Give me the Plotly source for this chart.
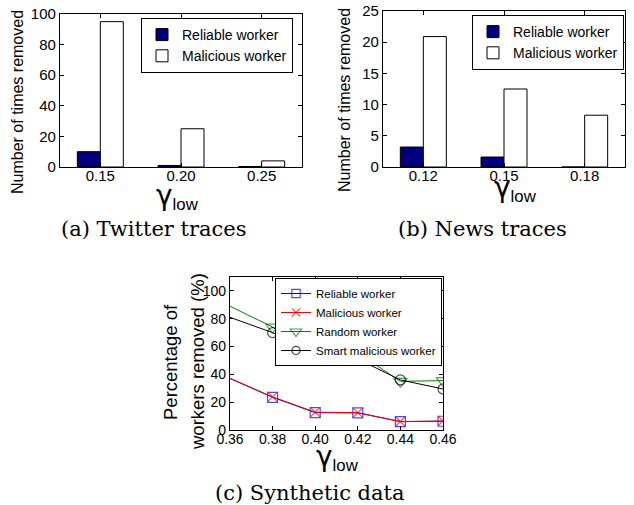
import plotly.graph_objects as go

# ---------------- data ----------------
twitter_gamma = ["0.15", "0.20", "0.25"]
twitter_reliable = [10, 1, 0.3]
twitter_malicious = [95, 25, 4]

news_gamma = ["0.12", "0.15", "0.18"]
news_reliable = [3.2, 1.6, 0]
news_malicious = [20.9, 12.5, 8.3]

syn_gamma = [0.36, 0.38, 0.40, 0.42, 0.44, 0.46]
syn_reliable = [37, 23.5, 12.5, 12.3, 6, 6.3]
syn_malicious = [37.2, 23.8, 12.8, 12.5, 6.1, 6.5]
syn_random = [89, 74, 57, 55.5, 35, 35.5]
syn_smart = [81, 70, 54.5, 51, 36, 29.5]
syn_marker_sizes = [0, 10, 10, 10, 10, 10]

W, H = 634, 505
FONT = "Liberation Sans"
SERIF = "DejaVu Serif"


def px(x):
    return x / W


def py(y):
    return 1 - y / H


fig = go.Figure()

# ---- (a) Twitter traces ----
fig.add_trace(go.Bar(x=twitter_gamma, y=twitter_reliable, name="Reliable worker",
                     marker=dict(color="#00007F", line=dict(color="black", width=1)),
                     xaxis="x", yaxis="y", legend="legend"))
fig.add_trace(go.Bar(x=twitter_gamma, y=twitter_malicious, name="Malicious worker",
                     marker=dict(color="white", line=dict(color="black", width=1)),
                     xaxis="x", yaxis="y", legend="legend"))

# ---- (b) News traces ----
fig.add_trace(go.Bar(x=news_gamma, y=news_reliable, name="Reliable worker",
                     marker=dict(color="#00007F", line=dict(color="black", width=1)),
                     xaxis="x2", yaxis="y2", legend="legend2"))
fig.add_trace(go.Bar(x=news_gamma, y=news_malicious, name="Malicious worker",
                     marker=dict(color="white", line=dict(color="black", width=1)),
                     xaxis="x2", yaxis="y2", legend="legend2"))

# ---- (c) Synthetic data ----
fig.add_trace(go.Scatter(x=syn_gamma, y=syn_reliable, name="Reliable worker", mode="lines+markers",
                         line=dict(color="#0000FF", width=1),
                         marker=dict(symbol="square-open", size=syn_marker_sizes, color="#0000FF",
                                     line=dict(width=1.2)),
                         xaxis="x3", yaxis="y3", legend="legend3"))
fig.add_trace(go.Scatter(x=syn_gamma, y=syn_malicious, name="Malicious worker", mode="lines+markers",
                         line=dict(color="#FF0000", width=1),
                         marker=dict(symbol="x-thin-open", size=syn_marker_sizes, color="#FF0000",
                                     line=dict(width=1.2, color="#FF0000")),
                         xaxis="x3", yaxis="y3", legend="legend3"))
fig.add_trace(go.Scatter(x=syn_gamma, y=syn_random, name="Random worker", mode="lines+markers",
                         line=dict(color="#008000", width=1),
                         marker=dict(symbol="triangle-down-open", size=[s + 2 if s else 0 for s in syn_marker_sizes],
                                     color="#008000", line=dict(width=1.2)),
                         xaxis="x3", yaxis="y3", legend="legend3"))
fig.add_trace(go.Scatter(x=syn_gamma, y=syn_smart, name="Smart malicious worker", mode="lines+markers",
                         line=dict(color="black", width=1),
                         marker=dict(symbol="circle-open", size=syn_marker_sizes, color="black",
                                     line=dict(width=1.2)),
                         xaxis="x3", yaxis="y3", legend="legend3"))

axis_common = dict(showline=True, linecolor="black", linewidth=1.2, mirror="ticks",
                   ticks="inside", ticklen=4, tickcolor="black", showgrid=False, zeroline=False,
                   automargin=False,
                   tickfont=dict(family=FONT, size=15, color="black"))
xaxis_extra = dict(ticklabelstandoff=-5)

legend_common = dict(bgcolor="white", bordercolor="black", borderwidth=1,
                     font=dict(family=FONT, size=14, color="black"),
                     tracegroupgap=0)

fig.update_layout(
    width=W, height=H, margin=dict(l=0, r=0, t=0, b=0, autoexpand=False),
    paper_bgcolor="white", plot_bgcolor="white",
    barmode="group", bargap=0.43, bargroupgap=0,
    xaxis=dict(domain=[px(60), px(302)], anchor="y", **axis_common, **xaxis_extra),
    yaxis=dict(domain=[py(167), py(14)], anchor="x", range=[0, 100],
               tickvals=[0, 20, 40, 60, 80, 100], **axis_common),
    xaxis2=dict(domain=[px(383), px(625)], anchor="y2", **axis_common, **xaxis_extra),
    yaxis2=dict(domain=[py(167), py(11)], anchor="x2", range=[0, 25],
                tickvals=[0, 5, 10, 15, 20, 25], **axis_common),
    xaxis3=dict(domain=[px(230), px(443)], anchor="y3", range=[0.36, 0.46],
                tickvals=syn_gamma, ticktext=["0.36", "0.38", "0.40", "0.42", "0.44", "0.46"],
                ticklabelstandoff=-4,
                **{**axis_common, "tickfont": dict(family=FONT, size=14, color="black")}),
    yaxis3=dict(domain=[py(430), py(277)], anchor="x3", range=[0, 110],
                tickvals=[0, 20, 40, 60, 80, 100],
                **{**axis_common, "tickfont": dict(family=FONT, size=14, color="black")}),
    legend=dict(x=px(293), y=py(18), xanchor="right", yanchor="top", **legend_common),
    legend2=dict(x=px(624), y=py(15), xanchor="right", yanchor="top", **legend_common),
    legend3=dict(x=px(442), y=py(278), xanchor="right", yanchor="top",
                 **{**legend_common, "font": dict(family=FONT, size=11.5, color="black")}),
    showlegend=True,
)

ann = []
# y-axis titles
ann.append(dict(text="Number of times removed", x=px(18), y=py(102), textangle=-90,
                font=dict(family=FONT, size=16, color="black")))
ann.append(dict(text="Number of times removed", x=px(345), y=py(100), textangle=-90,
                font=dict(family=FONT, size=16, color="black")))
ann.append(dict(text="Percentage of", x=px(170), y=py(362), textangle=-90,
                font=dict(family=FONT, size=18.5, color="black")))
ann.append(dict(text="workers removed (%)", x=px(197), y=py(362), textangle=-90,
                font=dict(family=FONT, size=18.5, color="black")))
# x-axis titles
gl = "<span style='font-family:DejaVu Sans;font-size:28px'>γ</span><sub>low</sub>"
ann.append(dict(text=gl, x=px(177), y=py(196), font=dict(family=FONT, size=24, color="black")))
ann.append(dict(text=gl, x=px(515), y=py(188), font=dict(family=FONT, size=24, color="black")))
ann.append(dict(text=gl, x=px(337), y=py(457), font=dict(family=FONT, size=24, color="black")))
# captions
ann.append(dict(text="(a) Twitter traces", x=px(154), y=py(229), font=dict(family=SERIF, size=21, color="black")))
ann.append(dict(text="(b) News traces", x=px(482), y=py(229), font=dict(family=SERIF, size=21, color="black")))
ann.append(dict(text="(c) Synthetic data", x=px(310), y=py(493), font=dict(family=SERIF, size=21, color="black")))

for a in ann:
    a.update(xref="paper", yref="paper", showarrow=False, xanchor="center", yanchor="middle")
fig.update_layout(annotations=ann)

fig.write_html("out.html", config={"displayModeBar": False},
               post_script="document.body.style.margin='0px';")
